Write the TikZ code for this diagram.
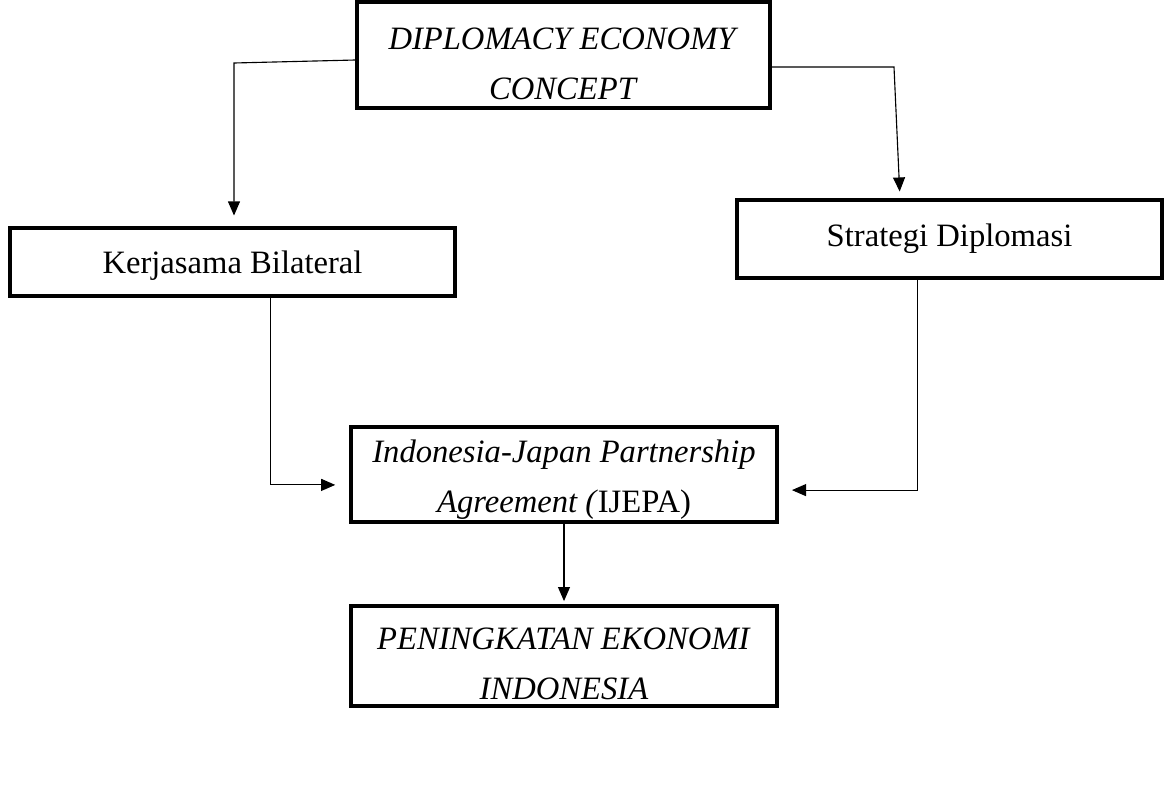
\documentclass[tikz,border=0pt]{standalone}
\usepackage{fontspec}
\setmainfont{Liberation Serif}
\usetikzlibrary{arrows.meta}
\newcommand{\padtop}[2]{\raisebox{0pt}[\dimexpr\height+#1\relax]{#2}}
\tikzset{
  box/.style={draw, line width=2.4pt, inner sep=0pt, align=center,
    font=\fontsize{23.2}{35.6}\selectfont},
  link/.style={line width=0.8pt},
  arr/.style={link, -{Triangle[length=10pt,width=8.5pt]}}
}
\begin{document}
\begin{tikzpicture}[x=0.025cm,y=-0.025cm]
            \useasboundingbox (0,0) rectangle (1173,790);
            
            % Concept box
            \node[box, minimum width=10.325cm, minimum height=2.65cm] (concept) at (563.5,55)
                {\padtop{0.45cm}{\textit{DIPLOMACY ECONOMY}}\\\textit{CONCEPT}};
            
            % Second row
            \node[box, minimum width=11.125cm, minimum height=1.7cm] (kerja) at (232.5,262)
                {\padtop{0.2cm}{Kerjasama Bilateral}};
            \node[box, minimum width=10.625cm, minimum height=1.95cm] (strat) at (949.5,239)
                {Strategi Diplomasi};
            
            % Agreement and result
            \node[box, minimum width=10.65cm, minimum height=2.375cm] (ijepa) at (564,474.5)
                {\padtop{0.25cm}{\textit{Indonesia-Japan Partnership}}\\\textit{Agreement (}IJEPA)};
            \node[box, minimum width=10.65cm, minimum height=2.5cm] (ening) at (564,656)
                {\padtop{0.4cm}{\textit{PENINGKATAN EKONOMI}}\\\textit{INDONESIA}};
            
            % Concept to second row
            \coordinate (bendL) at (234,63);
            \coordinate (bendR) at (894,67);
            \draw[arr, shorten >=0.27cm] ([yshift=-0.125cm]concept.west) -- (bendL) -- (bendL |- kerja.north);
            \draw[arr, shorten >=0.17cm] ([yshift=-0.3cm]concept.east) -- (bendR) -- ([xshift=0.15cm]bendR |- strat.north);
            
            % Second row to IJEPA
            \draw[arr, shorten >=0.35cm] ([xshift=0.94cm]kerja.south) |- ([yshift=-0.26cm]ijepa.west);
            \draw[arr, shorten >=0.33cm] ([xshift=-0.79cm]strat.south) |- ([yshift=-0.39cm]ijepa.east);
            
            % IJEPA to result
            \draw[arr, shorten >=0.08cm] (ijepa.south) -- (ening.north);
        \end{tikzpicture}
\end{document}
